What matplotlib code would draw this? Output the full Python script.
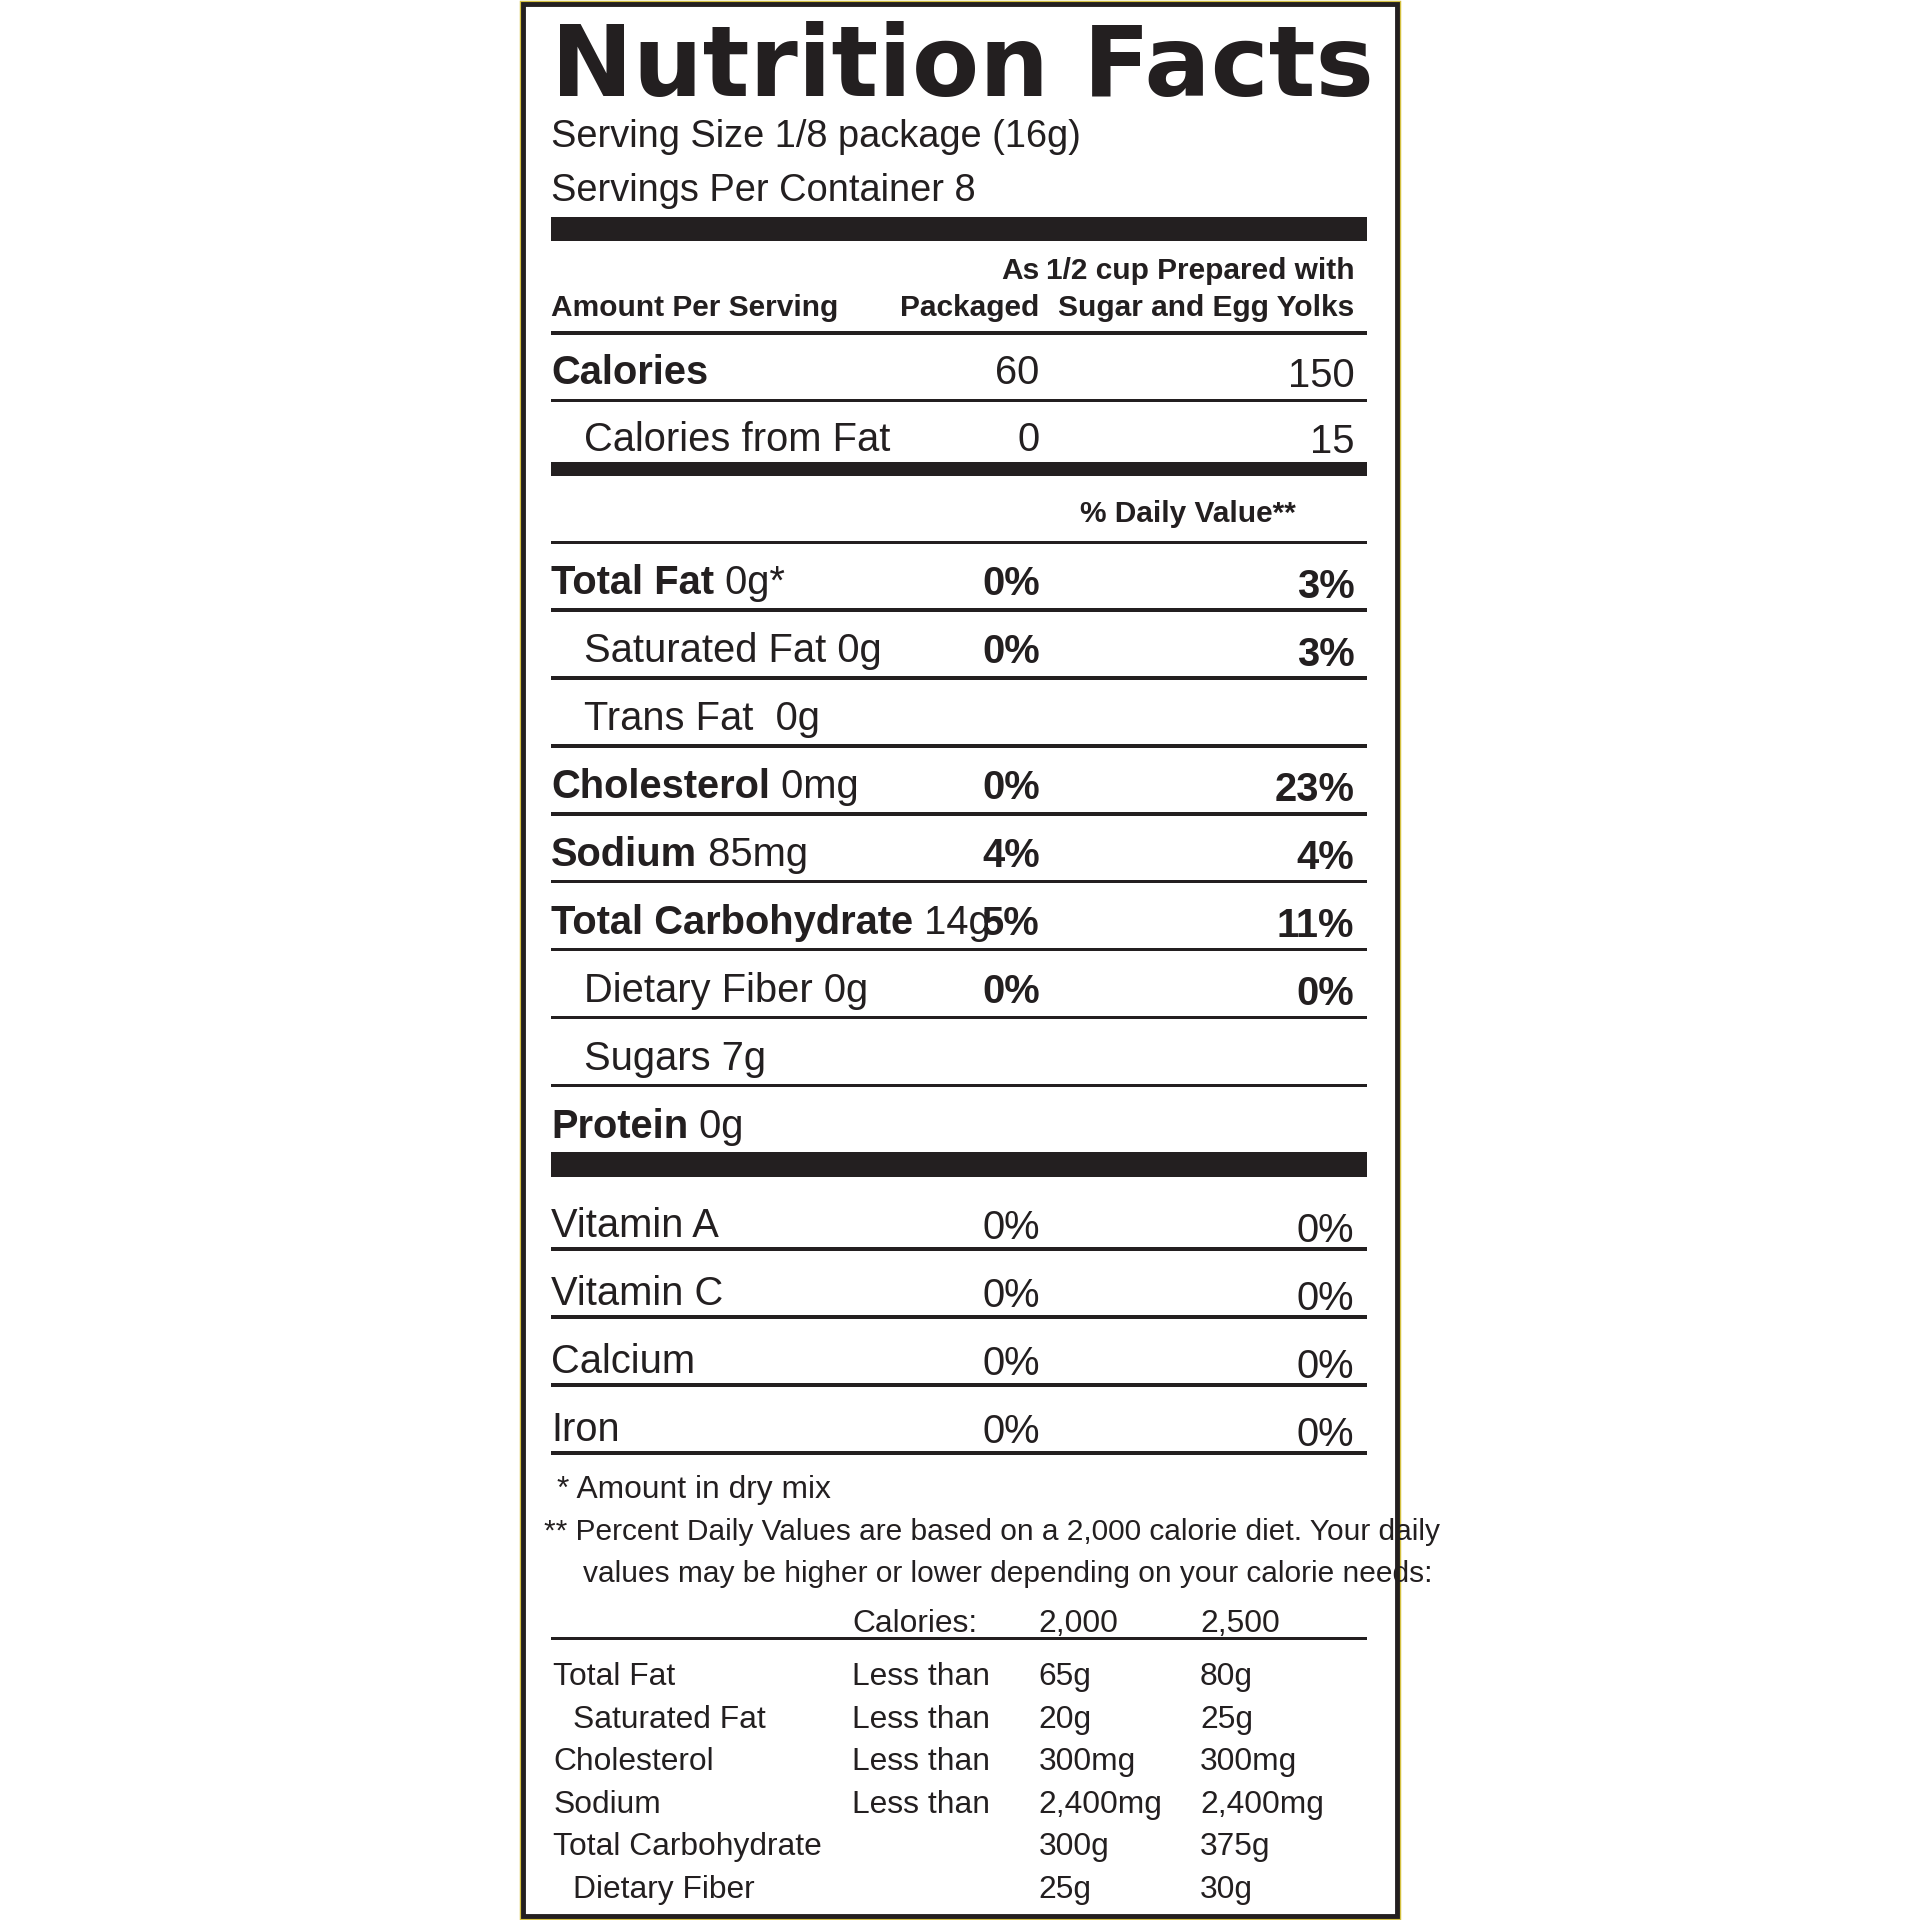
import matplotlib
matplotlib.use("Agg")
import matplotlib.pyplot as plt
from matplotlib.patches import Rectangle

plt.rcParams['font.family'] = ['Liberation Sans', 'DejaVu Sans']

S = 1568  # working coordinate space (display px)
K = 0.8816 * 0.74  # display px -> points, narrowed to mimic a condensed face

INK = "#231f20"

serving_lines = ["Serving Size 1/8 package (16g)", "Servings Per Container 8"]
cal_labels = ["Calories", "Calories from Fat"]
cal_packaged = ["60", "0"]
cal_prepared = ["150", "15"]

nutr_bold = ["Total Fat", "", "", "Cholesterol", "Sodium", "Total Carbohydrate", "", "", "Protein"]
nutr_reg = [" 0g*", "Saturated Fat 0g", "Trans Fat  0g", " 0mg", " 85mg", " 14g",
            "Dietary Fiber 0g", "Sugars 7g", " 0g"]
nutr_indent = [0, 1, 1, 0, 0, 0, 1, 1, 0]
dv_packaged = ["0%", "0%", "", "0%", "4%", "5%", "0%", "", ""]
dv_prepared = ["3%", "3%", "", "23%", "4%", "11%", "0%", "", ""]

vitamins = ["Vitamin A", "Vitamin C", "Calcium", "Iron"]
vit_packaged = ["0%", "0%", "0%", "0%"]
vit_prepared = ["0%", "0%", "0%", "0%"]

ref_names = ["Total Fat", "Saturated Fat", "Cholesterol", "Sodium", "Total Carbohydrate", "Dietary Fiber"]
ref_indent = [0, 1, 0, 0, 0, 1]
ref_limit = ["Less than", "Less than", "Less than", "Less than", "", ""]
ref_2000 = ["65g", "20g", "300mg", "2,400mg", "300g", "25g"]
ref_2500 = ["80g", "25g", "300mg", "2,400mg", "375g", "30g"]

fig = plt.figure(figsize=(19.2, 19.2), dpi=100)
ax = fig.add_axes([0, 0, 1, 1])
ax.set_xlim(0, S)
ax.set_ylim(S, 0)
ax.axis("off")

L, R = 450, 1116
C1, C2 = 849, 1106


def txt(x, y, s, size, bold=False, ha="left"):
    return ax.text(x, y, s, fontsize=size * K, fontweight="bold" if bold else "normal",
                   ha=ha, va="baseline", color=INK)


def hline(y, lw_px, x0=L, x1=R):
    ax.add_patch(Rectangle((x0, y - lw_px / 2), x1 - x0, lw_px, color=INK, lw=0))


# border
ax.add_patch(Rectangle((425.5, 1.5), 717, 1565, fill=False, ec="#d4c040", lw=2.5))
ax.add_patch(Rectangle((427.5, 3.5), 713, 1561, fill=False, ec=INK, lw=3.5))

# title
ax.text(450, 78, "Nutrition Facts", fontsize=80 * 0.8816, fontweight="bold", family="DejaVu Sans",
        color=INK, ha="left", va="baseline")
for i, s in enumerate(serving_lines):
    txt(L, 120 + 44 * i, s, 42)
hline(187, 20)

# header
txt(L, 258, "Amount Per Serving", 33, bold=True)
txt(C1, 228, "As", 33, bold=True, ha="right")
txt(C1, 258, "Packaged", 33, bold=True, ha="right")
txt(C2, 228, "1/2 cup Prepared with", 33, bold=True, ha="right")
txt(C2, 258, "Sugar and Egg Yolks", 33, bold=True, ha="right")
hline(272, 3)

# calories
cal_y = [314, 368]
for i, lab in enumerate(cal_labels):
    txt(L + 27 * i, cal_y[i], lab, 44, bold=(i == 0))
    txt(C1, cal_y[i], cal_packaged[i], 44, ha="right")
    txt(C2, cal_y[i] + 2, cal_prepared[i], 44, ha="right")
hline(327, 3)
hline(383, 11)
txt(970, 426, "% Daily Value**", 33, bold=True, ha="center")
hline(443, 3)

# nutrients
fig.canvas.draw()
renderer = fig.canvas.get_renderer()
row_h = 55.5
for i in range(len(nutr_reg)):
    y = 485 + row_h * i
    x = L + 27 * nutr_indent[i]
    if nutr_bold[i]:
        t = txt(x, y, nutr_bold[i], 44, bold=True)
        bb = t.get_window_extent(renderer=renderer)
        x_end = ax.transData.inverted().transform((bb.x1, bb.y0))[0]
        txt(x_end, y, nutr_reg[i], 44)
    else:
        txt(x, y, nutr_reg[i], 44)
    if dv_packaged[i]:
        txt(C1, y + 1, dv_packaged[i], 44, bold=True, ha="right")
        txt(C2, y + 3, dv_prepared[i], 44, bold=True, ha="right")
    if i < len(nutr_reg) - 1:
        hline(498 + row_h * i, 3)
hline(951, 20)

for i, v in enumerate(vitamins):
    y = 1010 + row_h * i
    txt(L, y, v, 44)
    txt(C1, y + 2, vit_packaged[i], 44, ha="right")
    txt(C2, y + 4, vit_prepared[i], 44, ha="right")
    hline(1020 + row_h * i, 3)

# footnotes
txt(455, 1223, "* Amount in dry mix", 35)
txt(444, 1258, "** Percent Daily Values are based on a 2,000 calorie diet. Your daily", 33)
txt(476, 1292, "values may be higher or lower depending on your calorie needs:", 33)

X1, X2, X3 = 696, 848, 980
txt(X1, 1333, "Calories:", 35)
txt(X2, 1333, "2,000", 35)
txt(X3, 1333, "2,500", 35)
hline(1338, 3)
for i, n in enumerate(ref_names):
    y = 1376 + 34.8 * i
    txt(452 + 16 * ref_indent[i], y, n, 35)
    txt(X1, y, ref_limit[i], 35)
    txt(X2, y, ref_2000[i], 35)
    txt(X3, y, ref_2500[i], 35)

fig.savefig("out.png", dpi=100, facecolor="white")
